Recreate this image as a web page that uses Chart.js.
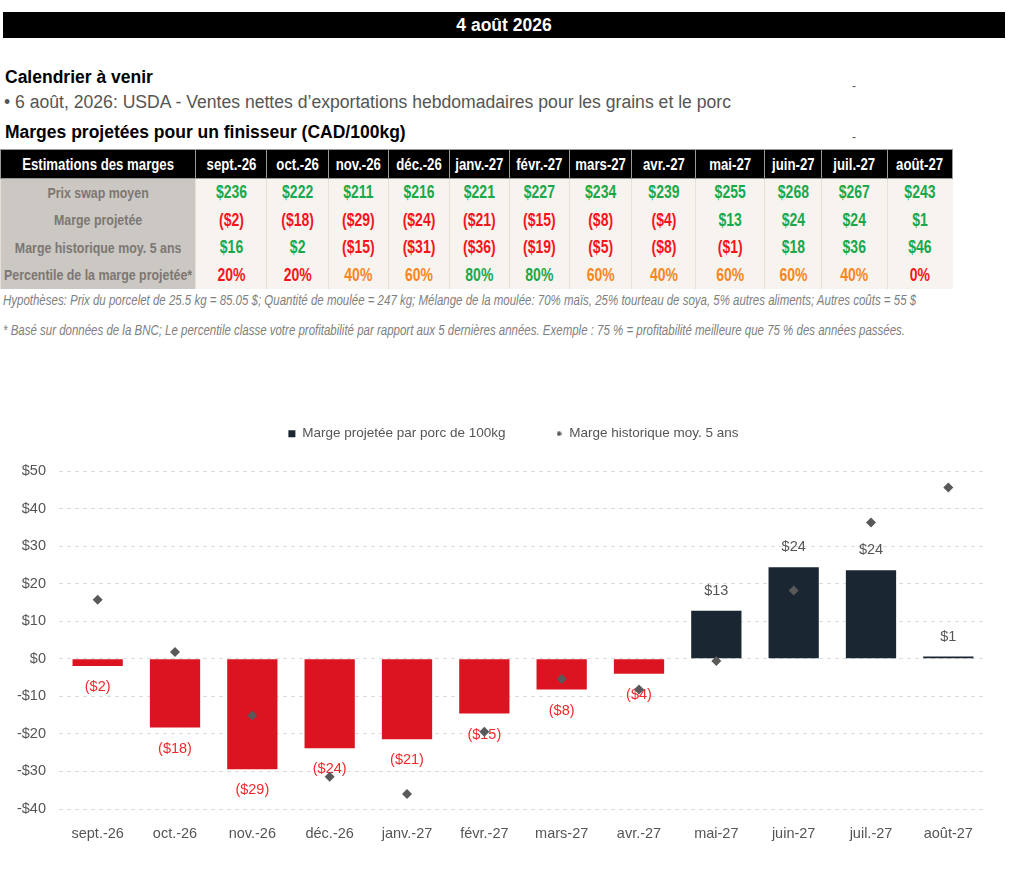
<!DOCTYPE html>
<html lang="fr">
<head>
<meta charset="utf-8">
<title>Marges projetées</title>
<script src="https://cdn.jsdelivr.net/npm/chart.js@4.4.1/dist/chart.umd.min.js"></script>
<style>
  body { margin: 0; width: 1024px; height: 877px; background: #fff; position: relative; overflow: hidden;
         font-family: "Liberation Sans", Arial, sans-serif; }
  #banner { position: absolute; left: 3px; top: 12px; width: 1002px; height: 26px; background: #000; color: #fff;
            font-weight: bold; font-size: 17.5px; line-height: 26px; text-align: center; }
  .txt { position: absolute; left: 5px; white-space: nowrap; }
  #cal { top: 67px; font-weight: bold; font-size: 17.5px; color: #000; }
  #evt { top: 92px; left: 4px; font-size: 17.6px; color: #555; }
  #marg { top: 122px; font-weight: bold; font-size: 17.5px; color: #000; }
  .dash { position: absolute; left: 852px; font-size: 12px; color: #555; }
  #tbl { position: absolute; left: 0; top: 149px; border-collapse: collapse; table-layout: fixed; width: 952px;
         font-weight: bold; }
  #tbl th { background: #000; color: #fff; height: 28px; font-size: 16.5px; padding: 0; border: 1px solid #9a9a9a;
            overflow: hidden; }
  #tbl td { height: 27.5px; font-size: 17.5px; padding: 0; text-align: center; background: #f7f4ef;
            border-left: 1px solid #e4e0da; overflow: hidden; }
  #tbl td.lab { background: #cbc7c2; color: #7b7773; font-size: 15.5px; }
  /* Arial Narrow is not available: squeeze the regular face instead */
  .sq { width: 130%; margin-left: -15%; transform: scaleX(0.8); text-align: center; white-space: nowrap; }
  .foot { position: absolute; left: 3px; white-space: nowrap; font-style: italic; font-size: 14px; color: #808080;
          transform: scaleX(0.82); transform-origin: 0 0; }
  #chartBox { position: absolute; left: 0; top: 377px; width: 1024px; height: 480px; }
</style>
</head>
<body>
<div id="banner">4 août 2026</div>
<div class="txt" id="cal">Calendrier à venir</div>
<div class="dash" style="top:79px">-</div>
<div class="txt" id="evt">• 6 août, 2026: USDA - Ventes nettes d’exportations hebdomadaires pour les grains et le porc</div>
<div class="txt" id="marg">Marges projetées pour un finisseur (CAD/100kg)</div>
<div class="dash" style="top:130px">-</div>
<table id="tbl"></table>
<div class="foot" style="top:292px">Hypothèses: Prix du porcelet de 25.5 kg = 85.05 $; Quantité de moulée = 247 kg; Mélange de la moulée: 70% maïs, 25% tourteau de soya, 5% autres aliments; Autres coûts = 55 $</div>
<div class="foot" style="top:322px">* Basé sur données de la BNC; Le percentile classe votre profitabilité par rapport aux 5 dernières années. Exemple : 75 % = profitabilité meilleure que 75 % des années passées.</div>
<div id="chartBox"><canvas id="marginChart"></canvas></div>

<script>
// ---------------------- DATA ----------------------
const months = ["sept.-26", "oct.-26", "nov.-26", "déc.-26", "janv.-27", "févr.-27",
                "mars-27", "avr.-27", "mai-27", "juin-27", "juil.-27", "août-27"];
const swapPrice = [236, 222, 211, 216, 221, 227, 234, 239, 255, 268, 267, 243];
const projectedMargin = [-1.9, -18.3, -29.4, -23.8, -21.4, -14.6, -8.2, -4.0, 12.8, 24.4, 23.6, 0.6];
const historicMargin = [15.7, 1.8, -15.1, -31.4, -36.0, -19.4, -5.4, -8.2, -0.6, 18.2, 36.3, 45.6];
const percentile = [20, 20, 40, 60, 80, 80, 60, 40, 60, 60, 40, 0];
const rowLabels = ["Prix swap moyen", "Marge projetée", "Marge historique moy. 5 ans", "Percentile de la marge projetée*"];
const colWidths = [195, 71, 62, 60, 61, 60, 60, 62, 64, 69, 57, 66, 65];

const GREEN = "#1aa84b";
const RED = "#f5141e";
const ORANGE = "#f7861e";
const BAR_RED = "#dc1421";
const NAVY = "#1a2631";
const DIAMOND = "#595959";
const FONT = '"Liberation Sans", Arial, sans-serif';

function money(v) {
  return v < 0 ? "($" + Math.abs(v) + ")" : "$" + v;
}

// ---------------------- TABLE ----------------------
function buildTable() {
  const tbl = document.getElementById("tbl");
  const sq = (t) => `<div class="sq">${t}</div>`;
  let html = "<colgroup>" + colWidths.map((w) => `<col style="width:${w}px">`).join("") + "</colgroup>";
  html += "<tr><th>" + sq("Estimations des marges") + "</th>" + months.map((m) => `<th>${sq(m)}</th>`).join("") + "</tr>";

  const signColor = (v) => (v < 0 ? RED : GREEN);
  const pctColor = (p) => (p <= 20 ? RED : p >= 80 ? GREEN : ORANGE);

  const rows = [
    swapPrice.map((v) => [money(v), GREEN]),
    projectedMargin.map((v) => [money(Math.round(v)), signColor(Math.round(v))]),
    historicMargin.map((v) => [money(Math.round(v)), signColor(Math.round(v))]),
    percentile.map((p) => [p + "%", pctColor(p)]),
  ];

  rows.forEach((cells, r) => {
    html += `<tr><td class="lab">${sq(rowLabels[r])}</td>`;
    cells.forEach(([text, color]) => {
      html += `<td style="color:${color}">${sq(text)}</td>`;
    });
    html += "</tr>";
  });
  tbl.innerHTML = html;
}

// ---------------------- CHART ----------------------
// small dot used as legend marker for the historic series
function legendDot() {
  const c = document.createElement("canvas");
  c.width = 5;
  c.height = 5;
  const g = c.getContext("2d");
  g.fillStyle = DIAMOND;
  g.beginPath();
  g.arc(2.5, 2.5, 2.2, 0, Math.PI * 2);
  g.fill();
  return c;
}

// legend keeps wide spacing between items without eating the plot height,
// and is centred a bit right of the canvas middle like the original
const legendGap = {
  id: "legendGap",
  beforeInit(chart) {
    const fit = chart.legend.fit;
    chart.legend.fit = function () {
      fit.call(this);
      this.height = 94;
    };
  },
  afterLayout(chart) {
    chart.legend.left = 40;
  },
};

// value labels above / below each bar, drawn before the diamonds
const barLabels = {
  id: "barLabels",
  afterDatasetDraw(chart, args) {
    if (args.index !== 0) return;
    const ctx = chart.ctx;
    ctx.save();
    ctx.font = "14.5px " + FONT;
    ctx.textAlign = "center";
    ctx.textBaseline = "middle";
    args.meta.data.forEach((bar, i) => {
      const v = projectedMargin[i];
      const neg = v < 0;
      ctx.fillStyle = neg ? "#f02a2a" : "#555";
      ctx.fillText(money(Math.round(v)), bar.x, neg ? bar.y + 21 : bar.y - 20);
    });
    ctx.restore();
  },
};

function buildChart() {
  const ctx = document.getElementById("marginChart").getContext("2d");
  const dot = legendDot();
  new Chart(ctx, {
    type: "bar",
    data: {
      labels: months,
      datasets: [
        {
          label: "Marge projetée par porc de 100kg",
          data: projectedMargin,
          backgroundColor: projectedMargin.map((v) => (v < 0 ? BAR_RED : NAVY)),
          barPercentage: 0.65,
          categoryPercentage: 1,
          order: 2,
        },
        {
          type: "line",
          label: "Marge historique moy. 5 ans",
          data: historicMargin,
          showLine: false,
          pointStyle: "rectRot",
          pointRadius: 5,
          pointHoverRadius: 5,
          pointBorderWidth: 0,
          pointBackgroundColor: DIAMOND,
          borderColor: DIAMOND,
          order: 1,
        },
      ],
    },
    options: {
      responsive: true,
      maintainAspectRatio: false,
      animation: false,
      layout: { padding: { left: 0, right: 37, top: 0, bottom: 0 } },
      plugins: {
        tooltip: { enabled: false },
        legend: {
          position: "top",
          labels: {
            usePointStyle: true,
            boxWidth: 7,
            boxHeight: 7,
            padding: 50,
            color: "#555",
            font: { family: FONT, size: 13.5 },
            generateLabels: () => [
              { text: "Marge projetée par porc de 100kg", fillStyle: NAVY, strokeStyle: NAVY,
                lineWidth: 0, pointStyle: "rect", datasetIndex: 0, fontColor: "#555" },
              { text: "Marge historique moy. 5 ans", fillStyle: DIAMOND, strokeStyle: DIAMOND,
                lineWidth: 0, pointStyle: dot, datasetIndex: 1, fontColor: "#555" },
            ],
          },
        },
      },
      scales: {
        x: {
          grid: { display: false, drawTicks: false },
          border: { display: false },
          ticks: { color: "#555", padding: 16, font: { family: FONT, size: 14.5 } },
          afterFit(scale) { scale.height = 48; },
        },
        y: {
          min: -40,
          max: 50,
          grid: { color: "#dddddd", drawTicks: false },
          border: { display: false, dash: [4, 4] },
          ticks: {
            stepSize: 10,
            color: "#555",
            padding: 13,
            font: { family: FONT, size: 14.5 },
            callback: (v) => (v < 0 ? "-$" + Math.abs(v) : "$" + v),
          },
          afterFit(scale) { scale.width = 59; },
        },
      },
    },
    plugins: [legendGap, barLabels],
  });
}

document.addEventListener("DOMContentLoaded", function () {
  buildTable();
  buildChart();
});
</script>
</body>
</html>
